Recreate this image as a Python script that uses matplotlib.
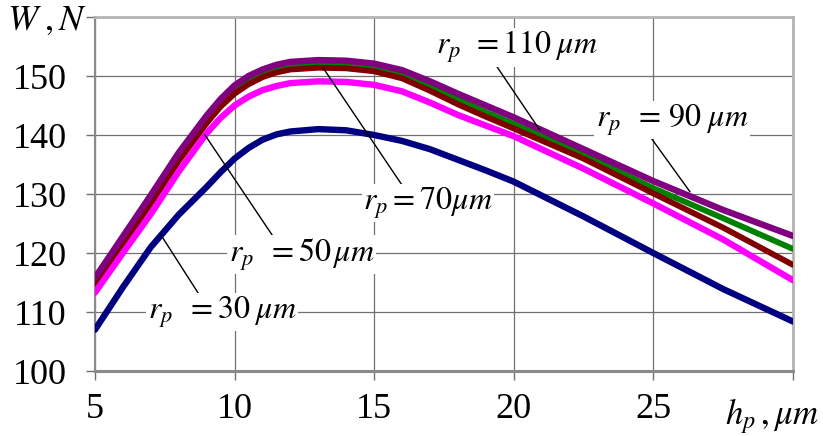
import matplotlib
matplotlib.use('Agg')
import matplotlib.pyplot as plt

plt.rcParams['font.family'] = ['Liberation Serif', 'DejaVu Serif']
plt.rcParams['mathtext.fontset'] = 'stix'

# depth of penetration h_p, um
hp = [5, 6, 7, 8, 9, 9.5, 10, 10.5, 11, 11.5, 12, 13, 14, 15, 16, 17, 18, 19,
      20, 22.5, 25, 27.5, 30]

# force W, N for each indenter radius r_p
w_30 = [107.0, 114.2, 121.0, 126.5, 131.2, 133.7, 136.0, 137.8, 139.2, 140.1,
        140.6, 141.0, 140.8, 140.0, 139.0, 137.6, 135.8, 134.0,
        132.1, 126.2, 120.0, 113.9, 108.4]
w_50 = [113.3, 120.0, 126.6, 133.8, 140.3, 142.9, 145.0, 146.5, 147.6, 148.3,
        148.8, 149.1, 149.0, 148.5, 147.4, 145.5, 143.4, 141.6,
        139.8, 134.3, 128.4, 122.3, 115.4]
w_70 = [114.6, 121.5, 128.4, 135.6, 142.0, 144.8, 147.0, 148.6, 149.8, 150.6,
        151.1, 151.4, 151.3, 150.8, 149.6, 147.5, 145.2, 143.1,
        141.1, 136.0, 130.1, 124.3, 118.0]
w_110 = [115.2, 122.1, 129.0, 136.2, 142.6, 145.4, 147.7, 149.3, 150.4, 151.2,
         151.7, 152.0, 151.9, 151.4, 150.2, 148.2, 146.0, 143.9,
         141.9, 136.7, 131.0, 125.9, 120.7]
w_90 = [115.8, 122.8, 129.8, 137.0, 143.3, 146.1, 148.4, 150.0, 151.1, 151.9,
        152.4, 152.7, 152.6, 152.1, 151.0, 149.1, 147.0, 145.0,
        143.0, 137.6, 132.2, 127.3, 122.9]

x_ticks = [5, 10, 15, 20, 25, 30]
x_tick_labels = ['5', '10', '15', '20', '25', '']
y_ticks = [100, 110, 120, 130, 140, 150, 160]
y_tick_labels = ['100', '110', '120', '130', '140', '150', '']

fig = plt.figure(figsize=(8.23, 4.36), dpi=100)
ax = fig.add_axes([0.1154, 0.149, 0.848, 0.812])

# drawing order decides which band sits on top where curves overlap
line_kw = dict(solid_capstyle='round', solid_joinstyle='round')
ax.plot(hp, w_110, color='#008000', lw=4.2, zorder=3, **line_kw)
ax.plot(hp, w_70, color='#800000', lw=4.2, zorder=4, **line_kw)
ax.plot(hp, w_90, color='#800080', lw=4.6, zorder=5, **line_kw)
ax.plot(hp, w_50, color='#ff00ff', lw=4.6, zorder=6, **line_kw)
ax.plot(hp, w_30, color='#000080', lw=4.6, zorder=7, **line_kw)

ax.set_xlim(5, 30)
ax.set_ylim(100, 160)
ax.set_xticks(x_ticks)
ax.set_xticklabels(x_tick_labels)
ax.set_yticks(y_ticks)
ax.set_yticklabels(y_tick_labels)
ax.tick_params(axis='both', direction='out', length=6.5, width=1,
               color='#707070', labelsize=26)
ax.tick_params(axis='x', pad=9)
ax.tick_params(axis='y', pad=14)
ax.grid(True, color='#707070', lw=0.9, zorder=0)
ax.set_axisbelow(True)

for side in ['top', 'right']:
    ax.spines[side].set_color('#b4b4b4')
    ax.spines[side].set_linewidth(2)
ax.spines['left'].set_color('#8a8a8a')
ax.spines['left'].set_linewidth(1.5)
ax.spines['bottom'].set_color('#8a8a8a')
ax.spines['bottom'].set_linewidth(2.2)

# axis captions
fig.text(0.057, 0.952, r'$W\;,N$', fontsize=26, ha='center', va='center')
fig.text(0.938, 0.045, r'$h_p\,,\mu m$', fontsize=25, ha='center', va='center')

# curve labels with leader lines
labels = [
    (r'$r_p\;\, =110\;\mu m$', (20.11, 154.9), (19.11, 153.6), (20.94, 140.8)),
    (r'$r_p\;\; = \,90\;\mu m$', (25.67, 142.5), (24.77, 140.5), (26.31, 130.4)),
    (r'$r_p = 70\mu m$', (16.93, 128.5), (16.0, 131.5), (13.17, 151.4)),
    (r'$r_p\;\; = 50\,\mu m$', (12.41, 119.7), (11.51, 121.9), (8.94, 140.0)),
    (r'$r_p\;\; = 30\;\mu m$', (9.55, 110.0), (8.82, 112.3), (7.33, 123.3)),
]
for text, pos, start, end in labels:
    ax.plot([start[0], end[0]], [start[1], end[1]], color='black', lw=1.0,
            zorder=8)
    ax.text(pos[0], pos[1], text, fontsize=23, ha='center', va='center',
            zorder=9, bbox=dict(facecolor='white', edgecolor='none', pad=1.0))

fig.savefig('out.png', dpi=100)
